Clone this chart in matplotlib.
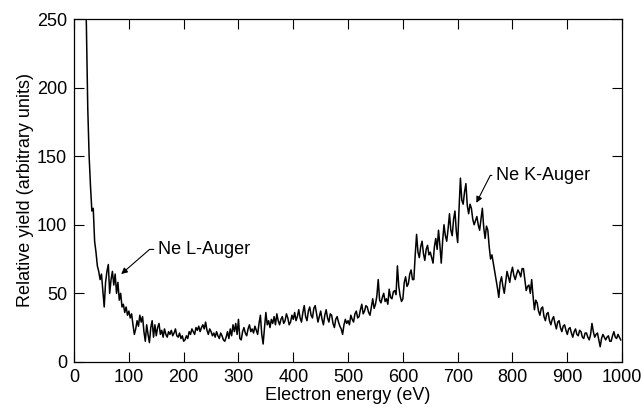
import numpy as np
import matplotlib
matplotlib.use("Agg")
import matplotlib.pyplot as plt

plt.rcParams['font.family'] = ['Liberation Sans', 'DejaVu Sans']

# electron energy grid (eV), 2.5 eV steps
energy = np.arange(20, 1000, 2.5)

# relative yield, one row per 50 eV
yield_vals = [
    290, 245, 185, 150, 128, 110, 112, 88, 80, 70, 66, 60, 64, 52, 40, 58, 66, 71, 50, 60,       # 20-67.5
    66, 56, 64, 50, 58, 45, 50, 40, 42, 36, 40, 34, 37, 32, 35, 27, 20, 24, 30, 26,              # 70-117.5
    34, 29, 33, 22, 15, 27, 20, 14, 25, 30, 18, 27, 19, 25, 28, 20, 23, 18, 24, 20,              # 120-167.5
    18, 22, 20, 23, 19, 21, 24, 19, 18, 21, 17, 19, 15, 16, 19, 17, 22, 20, 24, 22,              # 170-217.5
    20, 25, 23, 26, 22, 25, 27, 24, 29, 23, 20, 24, 22, 19, 21, 18, 22, 19, 17, 21,              # 220-267.5
    19, 16, 15, 18, 22, 17, 24, 19, 27, 22, 28, 20, 31, 17, 16, 22, 25, 21, 19, 24,              # 270-317.5
    27, 22, 24, 21, 26, 23, 20, 28, 34, 20, 13, 25, 36, 27, 30, 25, 31, 28, 33, 27,              # 320-367.5
    35, 30, 27, 31, 33, 28, 30, 35, 32, 27, 29, 34, 31, 36, 30, 33, 38, 32, 29, 36,              # 370-417.5
    41, 33, 30, 37, 40, 34, 32, 39, 41, 35, 29, 33, 37, 31, 27, 34, 38, 32, 29, 35,              # 420-467.5
    34, 28, 25, 31, 33, 29, 26, 24, 20, 27, 31, 28, 30, 27, 34, 31, 29, 35, 37, 32,              # 470-517.5
    33, 38, 42, 35, 37, 41, 40, 36, 34, 40, 46, 39, 42, 48, 60, 45, 43, 47, 50, 44,              # 520-567.5
    46, 42, 53, 47, 46, 51, 52, 49, 70, 55, 48, 44, 46, 58, 62, 55, 57, 64, 67, 60,              # 570-617.5
    60, 78, 93, 80, 76, 84, 88, 79, 74, 82, 85, 78, 80, 76, 72, 84, 90, 82, 96, 85,              # 620-667.5
    72, 88, 100, 92, 88, 97, 108, 96, 92, 104, 110, 95, 87, 112, 134, 118, 115, 124, 130, 114,   # 670-717.5
    108, 115, 112, 104, 100, 103, 106, 100, 96, 104, 112, 98, 90, 99, 96, 84, 75, 78, 72, 66,    # 720-767.5
    60, 54, 47, 58, 62, 55, 50, 58, 66, 62, 58, 65, 69, 63, 60, 64, 67, 65, 62, 68,              # 770-817.5
    68, 60, 52, 55, 56, 50, 60, 48, 38, 45, 43, 37, 34, 39, 40, 33, 30, 35, 36, 30,              # 820-867.5
    27, 31, 33, 28, 24, 29, 30, 25, 22, 26, 27, 23, 20, 24, 25, 21, 18, 22, 24, 20,              # 870-917.5
    19, 23, 22, 18, 17, 21, 21, 18, 16, 20, 28, 22, 18, 20, 21, 16, 11, 17, 20, 18,              # 920-967.5
    16, 18, 19, 15, 15, 19, 22, 18, 17, 20, 18, 16,                                              # 970-997.5
]

fig = plt.figure(figsize=(6.44, 4.07), dpi=100)
ax = fig.add_axes([0.115, 0.111, 0.851, 0.842])

ax.plot(energy, yield_vals, color='black', lw=1.1)

ax.set_xlim(0, 1000)
ax.set_ylim(0, 250)
ax.set_xticks(range(0, 1001, 100))
ax.set_yticks(range(0, 251, 50))
ax.tick_params(direction='in', length=7, width=0.8, top=True, right=True,
               labelsize=13, pad=5)
for s in ax.spines.values():
    s.set_linewidth(0.9)

ax.set_xlabel('Electron energy (eV)', fontsize=13, labelpad=1)
ax.set_ylabel('Relative yield (arbitrary units)', fontsize=13, labelpad=2)

ax.annotate('Ne L-Auger', xy=(86, 64), xytext=(153, 82), fontsize=13,
            va='center', ha='left',
            arrowprops=dict(arrowstyle='-|>', color='black', lw=0.8,
                            mutation_scale=9, shrinkA=1, shrinkB=0,
                            connectionstyle='angle,angleA=0,angleB=41,rad=0'))
ax.annotate('Ne K-Auger', xy=(734, 116), xytext=(770, 136), fontsize=13,
            va='center', ha='left',
            arrowprops=dict(arrowstyle='-|>', color='black', lw=0.8,
                            mutation_scale=9, shrinkA=1, shrinkB=0,
                            connectionstyle='angle,angleA=0,angleB=63,rad=0'))

fig.savefig('out.png', dpi=100)
